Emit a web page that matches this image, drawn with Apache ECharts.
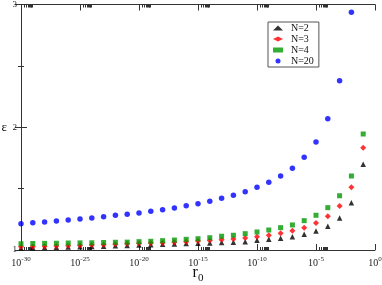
<!DOCTYPE html>
<html><head><meta charset="utf-8">
<script src="https://cdn.jsdelivr.net/npm/echarts@6/dist/echarts.min.js"></script>
<style>html,body{margin:0;padding:0;background:#fff}#c{width:382px;height:285px}</style>
</head><body><div id="c"></div>
<script>
const r0 = [1e-30,1e-29,1e-28,1e-27,1e-26,1e-25,1e-24,1e-23,1e-22,1e-21,1e-20,1e-19,1e-18,1e-17,1e-16,1e-15,1e-14,1e-13,1e-12,1e-11,1e-10,1e-9,1e-8,1e-7,1e-6,1e-5,1e-4,1e-3,1e-2,1e-1];
const epsN2 = [1.016,1.018,1.020,1.022,1.024,1.026,1.028,1.031,1.034,1.037,1.040,1.043,1.046,1.049,1.052,1.055,1.058,1.061,1.064,1.068,1.079,1.087,1.095,1.108,1.128,1.155,1.193,1.261,1.385,1.698];
const epsN3 = [1.027,1.029,1.031,1.033,1.035,1.037,1.040,1.043,1.046,1.050,1.054,1.057,1.060,1.064,1.068,1.073,1.078,1.084,1.090,1.098,1.108,1.120,1.136,1.157,1.182,1.220,1.275,1.358,1.511,1.833];
const epsN4 = [1.051,1.053,1.054,1.055,1.057,1.058,1.059,1.061,1.063,1.064,1.068,1.071,1.076,1.081,1.087,1.092,1.100,1.112,1.120,1.133,1.147,1.163,1.182,1.204,1.239,1.283,1.345,1.442,1.603,1.945];
const epsN20 = [1.214,1.222,1.228,1.236,1.244,1.253,1.261,1.271,1.283,1.291,1.301,1.315,1.328,1.342,1.361,1.377,1.397,1.421,1.446,1.475,1.511,1.552,1.603,1.666,1.755,1.880,2.070,2.379,2.936];
const seriesNames = ['N=2','N=3','N=4','N=20'];
const xTicks = [1e-30,1e-25,1e-20,1e-15,1e-10,1e-5,1];
const yTicks = [1,2,3];

const serif = '"Liberation Serif","DejaVu Serif",serif';
const axisCol = '#333';
const minorX = [];
for (let e = -30; e < 0; e += 5) for (let m = 2; m <= 9; m++) minorX.push(m * Math.pow(10, e));

function pairs(vals){ return vals.map((v,i)=>[r0[i], v]); }

const gridPos = {left:21, right:7, top:4.5, bottom:35, containLabel:false, outerBoundsMode:'none'};
const chart = echarts.init(document.getElementById('c'), null, {renderer:'canvas'});
chart.setOption({
  animation:false,
  backgroundColor:'#fff',
  grid:[Object.assign({},gridPos), Object.assign({},gridPos)],
  legend:{
    orient:'vertical', left:268, top:22,
    data:seriesNames,
    itemWidth:10, itemHeight:5, itemGap:1,
    padding:[1,5,1,5],
    borderColor:'#555', borderWidth:1, backgroundColor:'#fff',
    textStyle:{fontFamily:serif, fontSize:10, color:'#111', padding:[0,0,0,3]}
  },
  xAxis:[
    {type:'log', gridIndex:0, position:'bottom', min:1e-30, max:1, logBase:10,
     axisLine:{lineStyle:{color:axisCol,width:1}}, splitLine:{show:false},
     axisTick:{inside:true, length:6, customValues:xTicks, lineStyle:{color:axisCol}},
     axisLabel:{margin:6, color:'#222', fontFamily:serif, fontSize:10, customValues:xTicks,
       formatter:function(v){ return '10{s|' + Math.round(Math.log10(v)) + '}'; },
       rich:{s:{fontSize:7, verticalAlign:'top', padding:[0,0,7,0], fontFamily:serif, color:'#222'}}},
     name:'r{s|0}', nameLocation:'middle', nameGap:12, nameMoveOverlap:false,
     nameTextStyle:{fontFamily:serif, fontSize:16, color:'#111', verticalAlign:'top',
       rich:{s:{fontSize:11, fontFamily:serif, color:'#111', padding:[11,0,0,0]}}}},
    {type:'log', gridIndex:0, position:'top', min:1e-30, max:1, logBase:10,
     axisLine:{lineStyle:{color:axisCol,width:1}}, splitLine:{show:false},
     axisTick:{inside:true, length:6, customValues:xTicks, lineStyle:{color:axisCol}}, axisLabel:{show:false}},
    {type:'log', gridIndex:1, position:'bottom', min:1e-30, max:1, logBase:10,
     axisLine:{show:false}, splitLine:{show:false},
     axisTick:{inside:true, length:3, customValues:minorX, lineStyle:{color:axisCol}}, axisLabel:{show:false}},
    {type:'log', gridIndex:1, position:'top', min:1e-30, max:1, logBase:10,
     axisLine:{show:false}, splitLine:{show:false},
     axisTick:{inside:true, length:3, customValues:minorX, lineStyle:{color:axisCol}}, axisLabel:{show:false}}
  ],
  yAxis:[
    {type:'value', gridIndex:0, position:'left', min:1, max:3, interval:1,
     axisLine:{show:true, lineStyle:{color:axisCol,width:1}}, splitLine:{show:false},
     axisTick:{show:true, inside:true, length:6, lineStyle:{color:axisCol}},
     minorTick:{show:true, splitNumber:2, length:3, lineStyle:{color:axisCol}},
     axisLabel:{margin:4, color:'#222', fontFamily:serif, fontSize:9,
       formatter:function(v){ return yTicks.indexOf(v) >= 0 ? String(v) : ''; }},
     name:'ε', nameLocation:'middle', nameGap:14, nameRotate:0, nameMoveOverlap:false,
     nameTextStyle:{fontFamily:serif, fontSize:13, color:'#111'}},
    {type:'value', gridIndex:0, position:'right', min:1, max:3, interval:1,
     axisLine:{show:true, lineStyle:{color:axisCol,width:1}}, splitLine:{show:false},
     axisTick:{show:true, inside:true, length:6, lineStyle:{color:axisCol}},
     minorTick:{show:true, splitNumber:2, length:3, lineStyle:{color:axisCol}},
     axisLabel:{show:false}},
    {type:'value', gridIndex:1, min:1, max:3, show:false}
  ],
  series:[
    {name:'N=2', type:'scatter', xAxisIndex:0, yAxisIndex:0, symbol:'triangle', symbolSize:5.5,
     itemStyle:{color:'#000'}, data:pairs(epsN2)},
    {name:'N=3', type:'scatter', xAxisIndex:0, yAxisIndex:0, symbol:'diamond', symbolSize:6,
     itemStyle:{color:'#ff0000'}, data:pairs(epsN3)},
    {name:'N=4', type:'scatter', xAxisIndex:0, yAxisIndex:0, symbol:'rect', symbolSize:5,
     itemStyle:{color:'#009900'}, data:pairs(epsN4)},
    {name:'N=20', type:'scatter', xAxisIndex:0, yAxisIndex:0, symbol:'circle', symbolSize:5.5,
     itemStyle:{color:'#0000ff'}, data:pairs(epsN20)}
  ]
});
</script></body></html>
